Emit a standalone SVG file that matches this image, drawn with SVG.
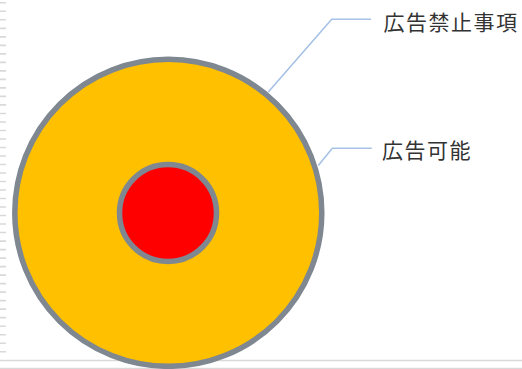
<svg xmlns="http://www.w3.org/2000/svg" width="522" height="369" viewBox="0 0 522 369">
<style>
.grid{stroke:#d9d9d9;fill:none}
.ring{stroke:#7f8790;stroke-width:5.5}
.lead{stroke:#a6c2e6;stroke-width:1.6;fill:none}
.lbl{font-family:"Noto Sans CJK JP","Noto Sans",sans-serif;font-size:21px;letter-spacing:1.5px;fill:#333333}
</style>
<rect width="522" height="369" fill="#ffffff"/>
<g id="grid">
<line class="grid" x1="3" y1="2" x2="3" y2="353" stroke-width="6" stroke-dasharray="1.6 6.91"/>
<line class="grid" x1="0" y1="360.5" x2="522" y2="360.5" stroke-width="1.5"/>
<line class="grid" x1="0" y1="368.5" x2="522" y2="368.5" stroke-width="1.5"/>
</g>
<g id="outer">
<circle class="ring" cx="168.3" cy="212.8" r="153.5" fill="#ffc000"/>
</g>
<g id="inner">
<circle class="ring" cx="168" cy="213" r="48.5" fill="#ff0000"/>
</g>
<g id="connectors">
<polyline class="lead" points="268.3,92 331.7,19.3 371,19.3"/>
<polyline class="lead" points="318.3,165.5 332.3,148.3 371.7,148.3"/>
</g>
<g id="label-prohibited">
<text class="lbl" x="383.5" y="29.5">広告禁止事項</text>
</g>
<g id="label-allowed">
<text class="lbl" x="382" y="157.5">広告可能</text>
</g>
</svg>
